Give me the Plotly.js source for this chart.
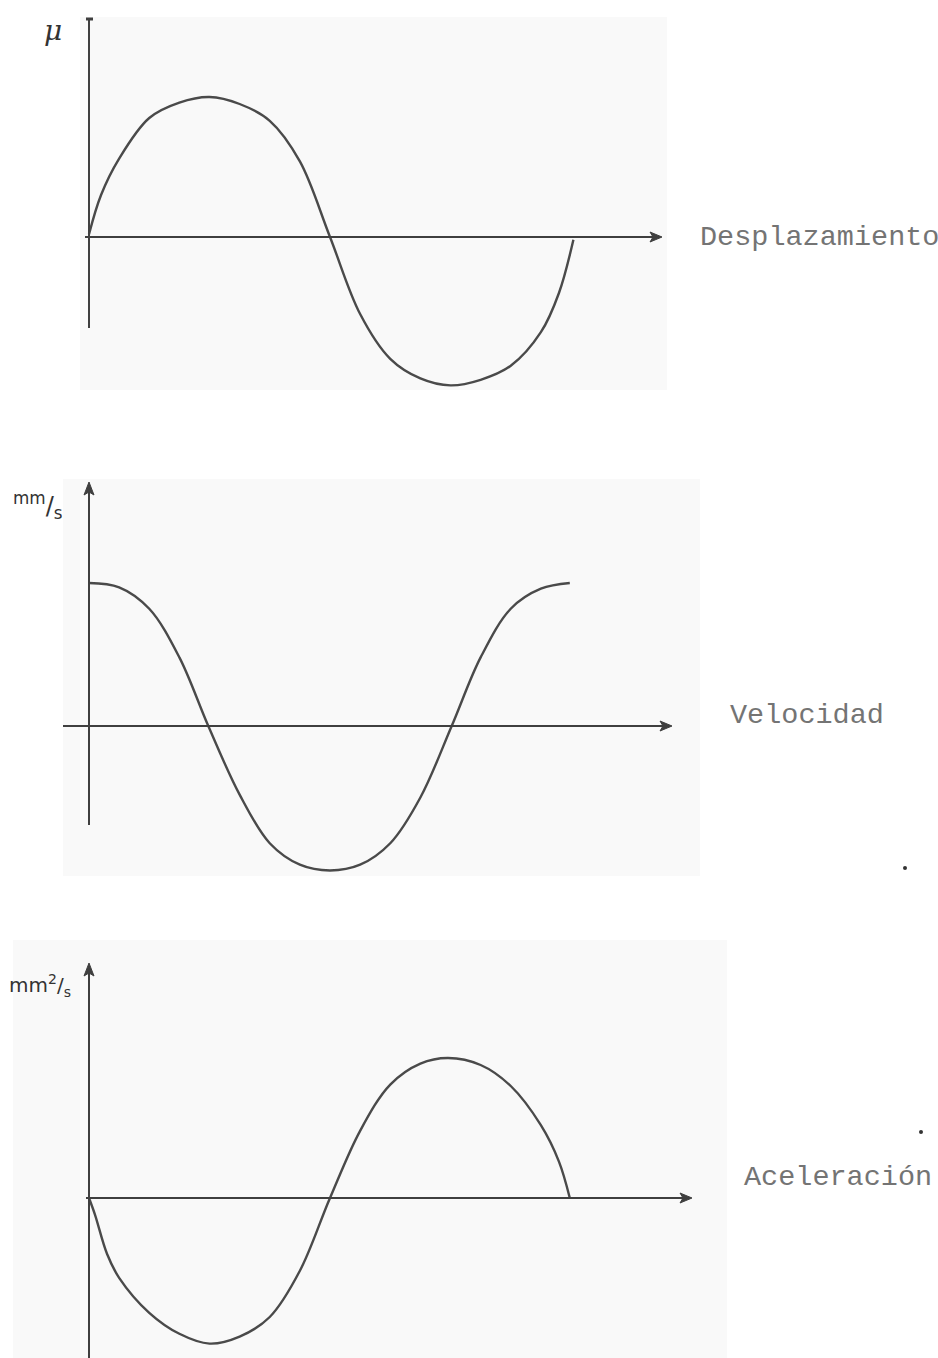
<!DOCTYPE html>
<html>
<head>
<meta charset="utf-8">
<script src="https://cdn.plot.ly/plotly-3.0.1.min.js"></script>
<style>html,body{margin:0;padding:0;background:#fff;}#chart{width:938px;height:1358px;}</style>
</head>
<body>
<div id="chart"></div>
<script>
// ---- Data (t in quarter periods, value in amplitude units) ----
const dispT = [0, 0.1, 0.25, 0.5, 0.75, 1.0, 1.25, 1.5, 1.75, 2.0, 2.25, 2.5, 2.75, 3.0, 3.25, 3.5, 3.75, 3.9, 4.02];
const dispV = [0.02, 0.30, 0.56, 0.85, 0.96, 1.00, 0.95, 0.83, 0.54, 0.00, -0.55, -0.87, -1.01, -1.06, -1.02, -0.92, -0.68, -0.40, -0.02];

const velT = [0, 0.25, 0.5, 0.75, 0.99, 1.25, 1.5, 1.75, 2.0, 2.25, 2.5, 2.75, 3.01, 3.25, 3.5, 3.75, 3.99];
const velV = [1.00, 0.97, 0.82, 0.48, 0.00, -0.48, -0.82, -0.97, -1.01, -0.97, -0.82, -0.50, 0.00, 0.48, 0.82, 0.96, 1.00];

const accT = [0, 0.05, 0.15, 0.25, 0.5, 0.75, 1.0, 1.25, 1.5, 1.75, 2.0, 2.25, 2.5, 2.75, 2.98, 3.25, 3.5, 3.75, 3.9, 3.99];
const accV = [0, -0.12, -0.40, -0.57, -0.82, -0.97, -1.04, -0.99, -0.85, -0.52, 0.00, 0.48, 0.81, 0.96, 1.00, 0.95, 0.80, 0.52, 0.26, 0.00];

const panelLabels = ['Desplazamiento', 'Velocidad', 'Aceleración'];
const unitLabels = ['μ', '<sup>mm</sup>/<sub>s</sub>', 'mm<sup>2</sup>/<sub>s</sub>'];

// ---- Layout geometry (pixels) ----
const W = 938, H = 1358;
const X0 = 89, XU = 120.5;              // x origin and px per quarter period
const panels = [
  {zero: 237,  unit: 140, top: 0,   bot: 460,  bg: [80, 17, 667, 390],
   h: [85, 662],  v: [18, 328, false],  lab: [698, 237], unitPos: [53, 30], unitSize: 28},
  {zero: 726,  unit: 143, top: 460, bot: 930,  bg: [63, 479, 700, 876],
   h: [63, 672],  v: [482, 825, true],  lab: [728, 715], unitPos: [38, 505], unitSize: 24},
  {zero: 1198, unit: 140, top: 930, bot: 1358, bg: [13, 940, 727, 1358],
   h: [86, 692],  v: [963, 1358, true], lab: [742, 1177], unitPos: [40, 985], unitSize: 20}
];
const px2t = px => (px - X0) / XU;
const py2v = (p, py) => (p.zero - py) / p.unit;

const series = [[dispT, dispV], [velT, velV], [accT, accV]];
const curveColor = '#4a4a4a';
const axisColor = '#3f3f3f';

const data = series.map((s, i) => ({
  x: s[0], y: s[1], type: 'scatter', mode: 'lines',
  line: {color: curveColor, width: 2.4, shape: 'spline', smoothing: 1},
  xaxis: 'x', yaxis: i === 0 ? 'y' : 'y' + (i + 1), hoverinfo: 'skip'
}));

const layout = {
  width: W, height: H,
  margin: {l: 0, r: 0, t: 0, b: 0, pad: 0},
  paper_bgcolor: '#ffffff', plot_bgcolor: 'rgba(0,0,0,0)',
  showlegend: false,
  xaxis: {domain: [0, 1], range: [px2t(0), px2t(W)], visible: false, fixedrange: true},
  shapes: [], annotations: []
};

panels.forEach((p, i) => {
  const yname = i === 0 ? 'yaxis' : 'yaxis' + (i + 1);
  const yref = i === 0 ? 'y' : 'y' + (i + 1);
  layout[yname] = {
    domain: [1 - p.bot / H, 1 - p.top / H],
    range: [py2v(p, p.bot), py2v(p, p.top)],
    visible: false, fixedrange: true, anchor: 'x'
  };
  // scanned panel background
  layout.shapes.push({type: 'rect', xref: 'paper', yref: 'paper', layer: 'below',
    x0: p.bg[0] / W, x1: p.bg[2] / W, y0: 1 - p.bg[3] / H, y1: 1 - p.bg[1] / H,
    fillcolor: '#f9f9f9', line: {width: 0}});
  // horizontal axis + arrowhead
  layout.shapes.push({type: 'line', xref: 'x', yref: yref, x0: px2t(p.h[0]), x1: px2t(p.h[1] - 4),
    y0: 0, y1: 0, line: {color: axisColor, width: 2}});
  layout.shapes.push({type: 'path', xref: 'x', yref: yref, xsizemode: 'pixel', ysizemode: 'pixel',
    xanchor: px2t(p.h[1]), yanchor: 0, path: 'M0,0 L-12,5 L-9,0 L-12,-5 Z',
    fillcolor: axisColor, line: {color: axisColor, width: 1}});
  // vertical axis
  if (p.v[2]) {
    layout.shapes.push({type: 'line', xref: 'x', yref: yref, x0: 0, x1: 0,
      y0: py2v(p, p.v[1]), y1: py2v(p, p.v[0] + 4), line: {color: axisColor, width: 2}});
    layout.shapes.push({type: 'path', xref: 'x', yref: yref, xsizemode: 'pixel', ysizemode: 'pixel',
      xanchor: 0, yanchor: py2v(p, p.v[0]), path: 'M0,0 L-5,-13 L0,-10 L5,-13 Z',
      fillcolor: axisColor, line: {color: axisColor, width: 1}});
  } else {
    layout.shapes.push({type: 'line', xref: 'x', yref: yref, x0: 0, x1: 0,
      y0: py2v(p, p.v[1]), y1: py2v(p, p.v[0]), line: {color: axisColor, width: 2}});
    layout.shapes.push({type: 'line', xref: 'x', yref: yref, x0: px2t(86), x1: px2t(93),
      y0: py2v(p, p.v[0] + 1), y1: py2v(p, p.v[0] + 1), line: {color: axisColor, width: 3}});
  }
  // panel name
  layout.annotations.push({xref: 'paper', yref: 'paper', x: p.lab[0] / W, y: 1 - p.lab[1] / H,
    xanchor: 'left', yanchor: 'middle', showarrow: false, text: panelLabels[i],
    font: {family: 'Liberation Mono, Courier New, monospace', size: 28.5, color: '#747474'}});
  // unit label (handwritten)
  layout.annotations.push({xref: 'paper', yref: 'paper', x: p.unitPos[0] / W, y: 1 - p.unitPos[1] / H,
    xanchor: 'center', yanchor: 'middle', showarrow: false, text: unitLabels[i],
    font: {family: i === 0 ? 'DejaVu Serif' : 'DejaVu Sans', size: p.unitSize, color: '#333333',
           style: i === 0 ? 'italic' : 'normal'}});
});

// stray scan dots
[[905, 868], [921, 1132]].forEach(d => {
  layout.shapes.push({type: 'circle', xref: 'paper', yref: 'paper',
    x0: (d[0] - 2) / W, x1: (d[0] + 2) / W, y0: 1 - (d[1] + 2) / H, y1: 1 - (d[1] - 2) / H,
    fillcolor: '#333', line: {width: 0}});
});

Plotly.newPlot('chart', data, layout, {staticPlot: true, displayModeBar: false});
</script>
</body>
</html>
